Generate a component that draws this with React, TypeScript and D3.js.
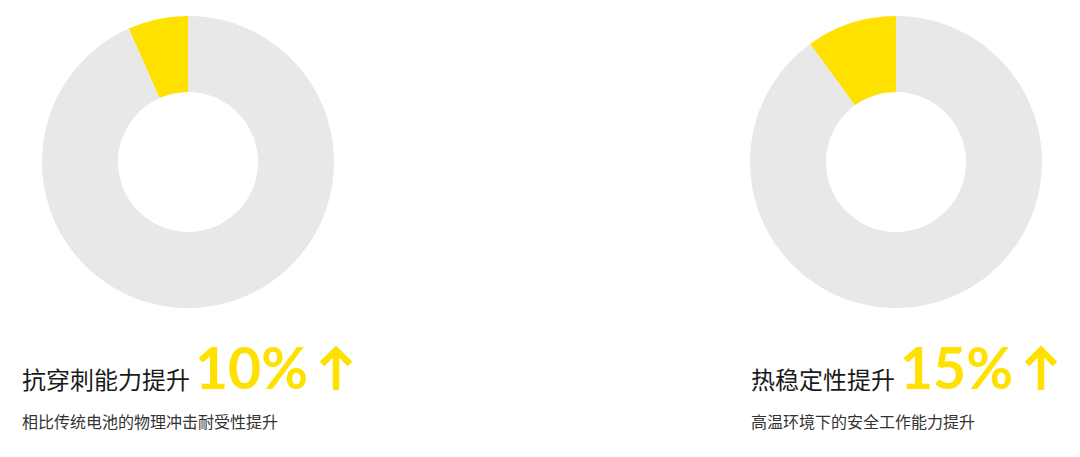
import React from "react";
import * as d3 from "d3";

const categories = ["抗穿刺能力提升", "热稳定性提升"];
const improvement = [10, 15];
const baseTotal = [150, 150];
const valueLabels = ["10%", "15%"];
const subtitles = ["相比传统电池的物理冲击耐受性提升", "高温环境下的安全工作能力提升"];

const W = 1080;
const H = 457;
const YELLOW = "#FFE100";
const GRAY = "#E8E8E8";

const centers = [
  { cx: 188, cy: 162, tx: 22 },
  { cx: 896, cy: 162, tx: 751 },
];

export default function App() {
  const pie = d3
    .pie<number>()
    .sort(null)
    .startAngle(0)
    .endAngle(-2 * Math.PI);
  const arc = d3.arc<d3.PieArcDatum<number>>().innerRadius(70).outerRadius(146);
  const color = d3.scaleOrdinal<number, string>().domain([0, 1]).range([YELLOW, GRAY]);

  return (
    <svg
      width={W}
      height={H}
      style={{ position: "absolute", left: 0, top: 0, background: "#fff" }}
      fontFamily="'Noto Sans CJK SC', 'Noto Sans', sans-serif"
    >
      {categories.map((cat, i) => {
        const c = centers[i];
        const slices = pie([improvement[i], baseTotal[i] - improvement[i]]);
        const titleWidth = cat.length * 24;
        const numX = c.tx + titleWidth + 5;
        const numW = 113;
        const ax = numX + numW + 28;
        return (
          <g key={cat}>
            <g transform={`translate(${c.cx},${c.cy})`}>
              {slices.map((s, j) => (
                <path key={j} d={arc(s) || ""} fill={color(j)} />
              ))}
            </g>
            <text x={c.tx} y={389} fontSize={24} fill="#1a1a1a" fontWeight={400}>
              {cat}
            </text>
            <text
              x={numX}
              y={389}
              fontSize={58}
              fontWeight={700}
              fill={YELLOW}
              fontFamily="Lato, 'Noto Sans', sans-serif"
              textLength={numW}
              lengthAdjust="spacingAndGlyphs"
            >
              {valueLabels[i]}
            </text>
            <g stroke={YELLOW} strokeWidth={6.5} fill="none" strokeLinecap="butt" strokeLinejoin="miter">
              <line x1={ax} y1={352} x2={ax} y2={390} />
              <polyline points={`${ax - 14},${364} ${ax},${350} ${ax + 14},${364}`} />
            </g>
            <text x={c.tx} y={428} fontSize={16} fill="#333">
              {subtitles[i]}
            </text>
          </g>
        );
      })}
    </svg>
  );
}
